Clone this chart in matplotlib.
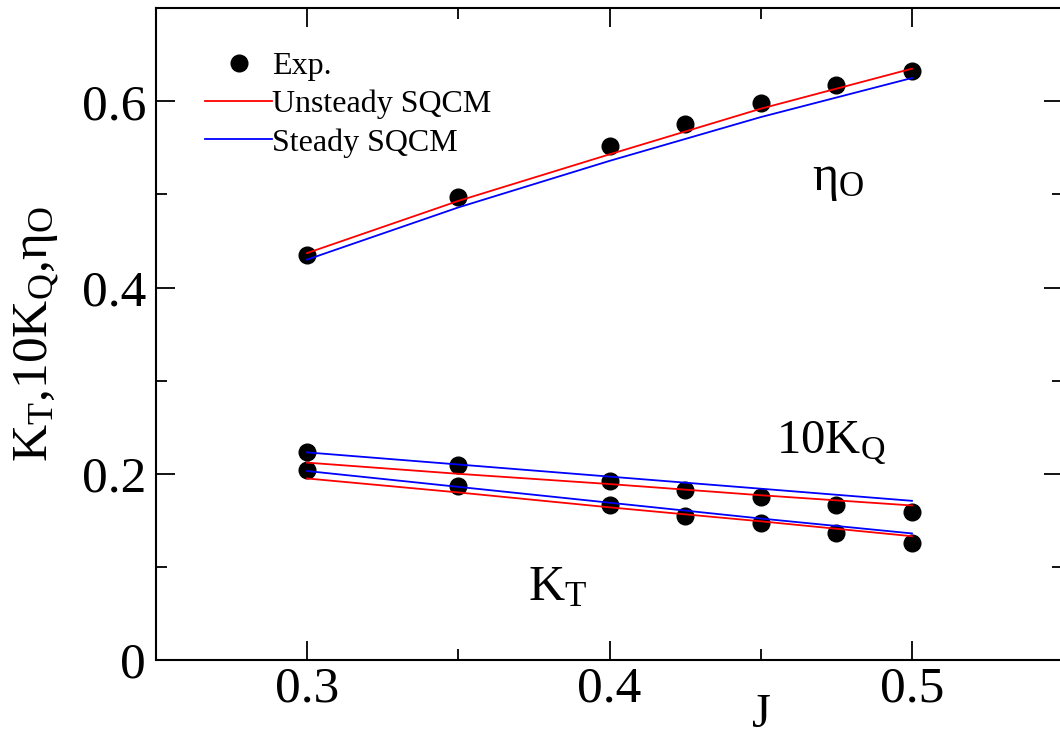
import matplotlib
matplotlib.use("Agg")
import matplotlib.pyplot as plt
from matplotlib.ticker import MultipleLocator

plt.rcParams['font.family'] = ['Liberation Serif', 'DejaVu Serif']
plt.rcParams['mathtext.fontset'] = 'custom'
plt.rcParams['mathtext.rm'] = 'Liberation Serif'
plt.rcParams['mathtext.it'] = 'Liberation Serif'

# experimental points
J_exp = [0.3, 0.35, 0.4, 0.425, 0.45, 0.475, 0.5]
eta_exp = [0.435, 0.497, 0.552, 0.576, 0.598, 0.618, 0.633]
kq_exp = [0.223, 0.209, 0.192, 0.183, 0.175, 0.167, 0.159]
kt_exp = [0.204, 0.187, 0.166, 0.155, 0.147, 0.136, 0.126]

# computed curves
J_calc = [0.3, 0.35, 0.4, 0.45, 0.5]
eta_unsteady = [0.437, 0.493, 0.543, 0.592, 0.635]
eta_steady = [0.430, 0.486, 0.536, 0.583, 0.625]
kq_unsteady = [0.212, 0.200, 0.189, 0.177, 0.166]
kq_steady = [0.223, 0.210, 0.197, 0.184, 0.171]
kt_unsteady = [0.195, 0.180, 0.164, 0.149, 0.133]
kt_steady = [0.203, 0.186, 0.169, 0.152, 0.136]

fig = plt.figure(figsize=(10.6, 7.4), dpi=100)
ax = fig.add_axes([0.147, 0.108, 0.856, 0.881])

ax.plot(J_exp, eta_exp, 'o', color='black', markersize=12, label='Exp.')
ax.plot(J_calc, eta_unsteady, '-', color='red', lw=1.3, label='Unsteady SQCM')
ax.plot(J_calc, eta_steady, '-', color='blue', lw=1.3, label='Steady SQCM')
ax.plot(J_exp, kq_exp, 'o', color='black', markersize=12)
ax.plot(J_exp, kt_exp, 'o', color='black', markersize=12)
ax.plot(J_calc, kq_unsteady, '-', color='red', lw=1.3)
ax.plot(J_calc, kq_steady, '-', color='blue', lw=1.3)
ax.plot(J_calc, kt_unsteady, '-', color='red', lw=1.3)
ax.plot(J_calc, kt_steady, '-', color='blue', lw=1.3)

ax.set_xlim(0.25, 0.55)
ax.set_ylim(0, 0.7)
ax.xaxis.set_minor_locator(MultipleLocator(0.05))
ax.yaxis.set_minor_locator(MultipleLocator(0.1))
ax.set_xticks([0.3, 0.4, 0.5])
ax.set_xticklabels(['0.3', '0.4', '0.5'])
ax.set_yticks([0, 0.2, 0.4, 0.6])
ax.set_yticklabels(['0', '0.2', '0.4', '0.6'])
ax.tick_params(which='both', direction='in', top=True, right=True,
               labelsize=37, width=1.3)
ax.tick_params(which='major', length=14)
ax.tick_params(axis='x', which='major', pad=4)
ax.tick_params(axis='y', which='major', pad=7)
ax.tick_params(which='minor', length=8)
for sp in ax.spines.values():
    sp.set_linewidth(1.5)

ax.set_xlabel('J', fontsize=35)
ax.xaxis.set_label_coords(0.667, -0.05)
ax.set_ylabel(r'$\mathrm{K_T{,}10K_Q{,}η_O}$', fontsize=37)
ax.yaxis.set_label_coords(-0.103, 0.5)

ax.text(0.467, 0.505, r'$\mathrm{η_O}$', fontsize=36)
ax.text(0.455, 0.222, r'$\mathrm{10K_Q}$', fontsize=35)
ax.text(0.373, 0.064, r'$\mathrm{K_T}$', fontsize=36)

ax.legend(loc='upper left', bbox_to_anchor=(0.03, 0.968), frameon=False,
          fontsize=23, handlelength=2.1, handletextpad=0.0,
          labelspacing=0.28, borderaxespad=0.3)

fig.savefig('out.png', dpi=100)
